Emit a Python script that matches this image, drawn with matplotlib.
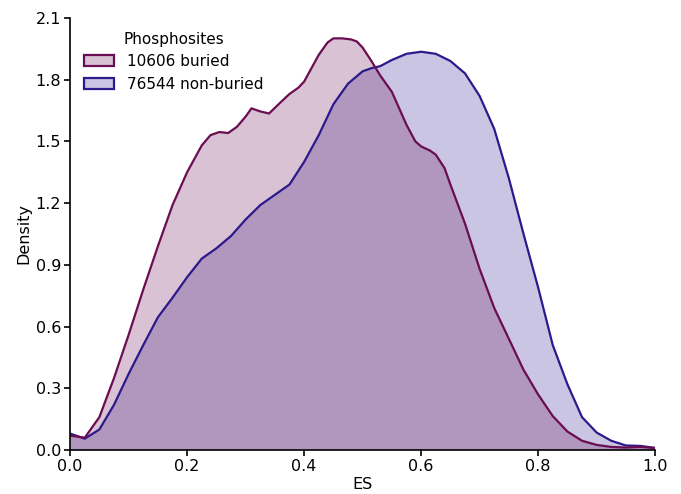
import matplotlib
matplotlib.use("Agg")
import matplotlib.pyplot as plt
import numpy as np
from matplotlib.patches import Patch

es_buried = [0.0, 0.025, 0.05, 0.075, 0.1, 0.125, 0.15, 0.175, 0.2, 0.225, 0.24, 0.255, 0.27,
             0.285, 0.3, 0.31, 0.325, 0.34, 0.36, 0.375, 0.39, 0.4, 0.425, 0.44, 0.45, 0.465,
             0.48, 0.49, 0.5, 0.515, 0.53, 0.55, 0.575, 0.59, 0.6, 0.615, 0.625, 0.64, 0.65,
             0.675, 0.7, 0.725, 0.75, 0.775, 0.8, 0.825, 0.85, 0.875, 0.9, 0.925, 0.95, 0.975,
             1.0]
dens_buried = [0.07, 0.06, 0.16, 0.35, 0.56, 0.78, 0.99, 1.19, 1.35, 1.48, 1.53, 1.545, 1.54,
               1.57, 1.62, 1.66, 1.645, 1.635, 1.69, 1.73, 1.76, 1.79, 1.92, 1.98, 2.0, 2.0,
               1.995, 1.985, 1.955, 1.89, 1.82, 1.74, 1.58, 1.50, 1.475, 1.455, 1.435, 1.37,
               1.29, 1.10, 0.88, 0.69, 0.54, 0.39, 0.27, 0.165, 0.09, 0.045, 0.025, 0.015,
               0.012, 0.015, 0.01]

es_nonburied = [0.0, 0.025, 0.05, 0.075, 0.1, 0.125, 0.15, 0.175, 0.2, 0.225, 0.25, 0.275,
                0.3, 0.325, 0.35, 0.375, 0.4, 0.425, 0.45, 0.475, 0.5, 0.515, 0.53, 0.55,
                0.575, 0.6, 0.625, 0.65, 0.675, 0.7, 0.725, 0.75, 0.775, 0.8, 0.825, 0.85,
                0.875, 0.9, 0.925, 0.95, 0.975, 1.0]
dens_nonburied = [0.08, 0.055, 0.10, 0.22, 0.37, 0.51, 0.645, 0.74, 0.84, 0.93, 0.98, 1.04,
                  1.12, 1.19, 1.24, 1.29, 1.40, 1.53, 1.68, 1.78, 1.84, 1.855, 1.865, 1.895,
                  1.925, 1.935, 1.925, 1.89, 1.83, 1.72, 1.56, 1.32, 1.05, 0.79, 0.51, 0.32,
                  0.16, 0.085, 0.045, 0.022, 0.02, 0.01]

labels = ["10606 buried", "76544 non-buried"]
legend_title = "Phosphosites"
c_buried = "#6a0d52"
c_nonburied = "#2c1a8c"

fig = plt.figure(figsize=(6.81, 4.94), dpi=100)
ax = fig.add_axes([0.103, 0.089, 0.859, 0.875])

alpha = 0.25
ax.fill_between(es_nonburied, dens_nonburied, 0, facecolor=c_nonburied, alpha=alpha, lw=0)
ax.fill_between(es_buried, dens_buried, 0, facecolor=c_buried, alpha=alpha, lw=0)
ax.plot(es_nonburied, dens_nonburied, color=c_nonburied, lw=1.6)
ax.plot(es_buried, dens_buried, color=c_buried, lw=1.6)

handles = [Patch(facecolor=matplotlib.colors.to_rgba(c_buried, alpha), edgecolor=c_buried, lw=1.6),
           Patch(facecolor=matplotlib.colors.to_rgba(c_nonburied, alpha), edgecolor=c_nonburied, lw=1.6)]
ax.legend(handles, labels, title=legend_title, frameon=False, loc="upper left",
          bbox_to_anchor=(0.0, 1.0), fontsize=11, title_fontsize=11)

ax.set_xlim(0, 1.0)
ax.set_ylim(0, 2.1)
xt = np.arange(0, 1.01, 0.2)
yt = np.arange(0, 2.11, 0.3)
ax.set_xticks(xt)
ax.set_yticks(yt)
ax.set_xticklabels([f"{v:.1f}" for v in xt])
ax.set_yticklabels([f"{v:.1f}" for v in yt])
ax.tick_params(labelsize=11.5, width=1.2, length=4, pad=2.5)
ax.set_xlabel("ES", fontsize=11.5, labelpad=2)
ax.set_ylabel("Density", fontsize=11.5, labelpad=3)
for s in ["top", "right"]:
    ax.spines[s].set_visible(False)
for s in ["left", "bottom"]:
    ax.spines[s].set_linewidth(1.2)

fig.savefig("out.png", dpi=100)
